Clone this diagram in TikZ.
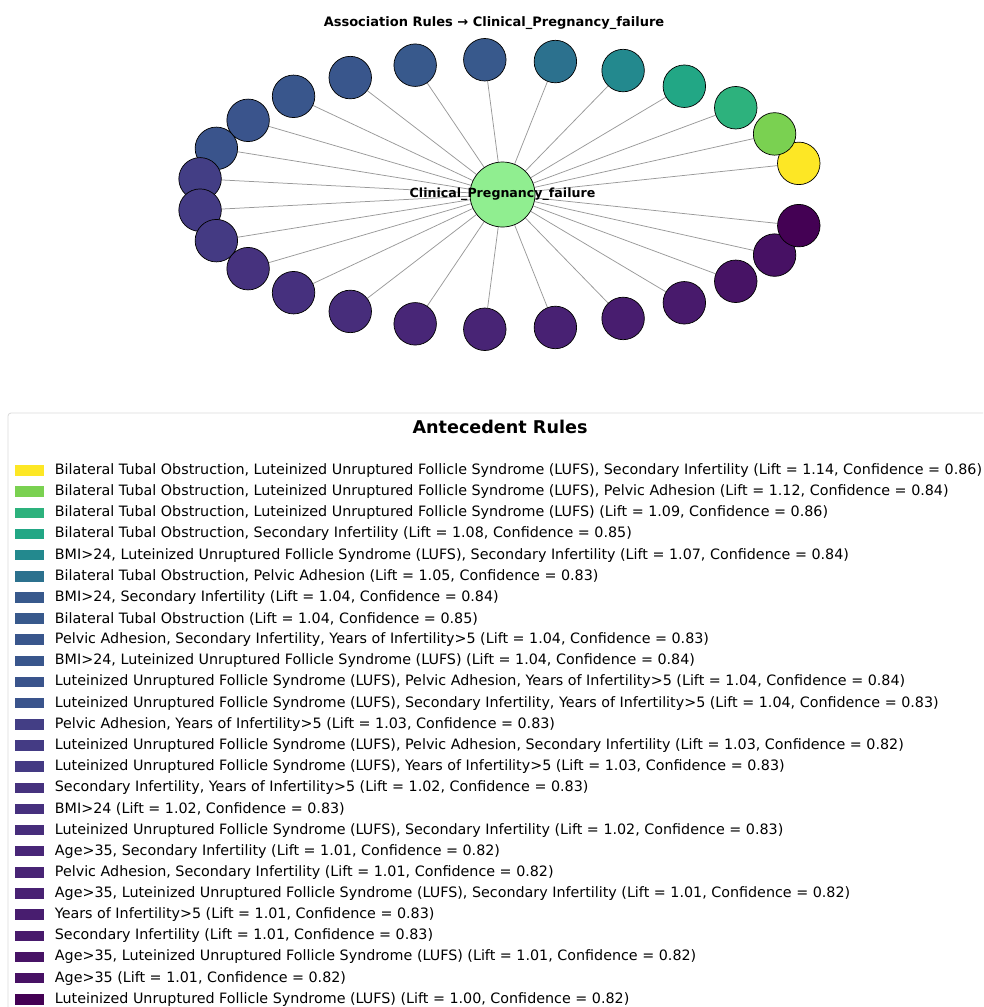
\documentclass[tikz,border=0pt]{standalone}
\usepackage{fontspec}
\setmainfont{DejaVu Sans}
\usetikzlibrary{positioning,calc,backgrounds}
\definecolor{vir1}{HTML}{FDE725}
\definecolor{vir2}{HTML}{7AD151}
\definecolor{vir3}{HTML}{2DB27D}
\definecolor{vir4}{HTML}{22A785}
\definecolor{vir5}{HTML}{23898E}
\definecolor{vir6}{HTML}{2C718E}
\definecolor{vir7}{HTML}{38598C}
\definecolor{vir8}{HTML}{38598C}
\definecolor{vir9}{HTML}{39568C}
\definecolor{vir10}{HTML}{39568C}
\definecolor{vir11}{HTML}{3A548C}
\definecolor{vir12}{HTML}{3A548C}
\definecolor{vir13}{HTML}{433E85}
\definecolor{vir14}{HTML}{443B84}
\definecolor{vir15}{HTML}{443A83}
\definecolor{vir16}{HTML}{46327E}
\definecolor{vir17}{HTML}{46307E}
\definecolor{vir18}{HTML}{472D7B}
\definecolor{vir19}{HTML}{482677}
\definecolor{vir20}{HTML}{482475}
\definecolor{vir21}{HTML}{482173}
\definecolor{vir22}{HTML}{481D6F}
\definecolor{vir23}{HTML}{481A6C}
\definecolor{vir24}{HTML}{471365}
\definecolor{vir25}{HTML}{471164}
\definecolor{vir26}{HTML}{440154}
\definecolor{hubgreen}{HTML}{90EE90}
\definecolor{spokegray}{HTML}{999999}
\definecolor{legendframe}{HTML}{D9D9D9}

\begin{document}
\begin{tikzpicture}[x=1pt,y=-1pt,
  rule/.style={circle,draw=black,line width=0.7pt,minimum size=42.5pt,inner sep=0pt},
  hub/.style={circle,draw=black,line width=0.7pt,fill=hubgreen,minimum size=65pt,inner sep=0pt},
  spoke/.style={draw=spokegray,line width=0.75pt},
  swatch/.style={minimum width=29pt,minimum height=10.5pt,inner sep=0pt},
  ruletext/.style={inner sep=0pt,font=\fontsize{14.3}{17}\selectfont}]
\clip (0,0) rectangle (983,1007);
\def\rx{304.5}
\def\ry{135}
\coordinate (O) at (502.5,194.5);
\node[font=\fontsize{13}{16}\selectfont\bfseries] (title) at (494,23) {Association Rules → Clinical\_Pregnancy\_failure};
\node[hub] (cpf) at (O) {};
\foreach \i in {1,...,26} {
  \node[rule,fill=vir\i] (r\i) at ($(O)+({\rx*cos(\i*360/27)},{-\ry*sin(\i*360/27)})$) {};
}
\begin{scope}[on background layer]
\foreach \i in {1,...,26} {
  \draw[spoke] (cpf) -- (r\i);
}
\end{scope}
\node[font=\fontsize{12.6}{15}\selectfont\bfseries] (cpflabel) at (O) {Clinical\_Pregnancy\_failure};

\draw[legendframe,line width=0.8pt,rounded corners=3pt] (8,1030) -- (8,413) -- (1010,413);
\node[font=\fontsize{17.6}{20}\selectfont\bfseries] (legtitle) at (500,427) {Antecedent Rules};
\foreach \i/\txt in {
  1/{Bilateral Tubal Obstruction, Luteinized Unruptured Follicle Syndrome (LUFS), Secondary Infertility (Lift = 1.14, Confidence = 0.86)},
  2/{Bilateral Tubal Obstruction, Luteinized Unruptured Follicle Syndrome (LUFS), Pelvic Adhesion (Lift = 1.12, Confidence = 0.84)},
  3/{Bilateral Tubal Obstruction, Luteinized Unruptured Follicle Syndrome (LUFS) (Lift = 1.09, Confidence = 0.86)},
  4/{Bilateral Tubal Obstruction, Secondary Infertility (Lift = 1.08, Confidence = 0.85)},
  5/{BMI>24, Luteinized Unruptured Follicle Syndrome (LUFS), Secondary Infertility (Lift = 1.07, Confidence = 0.84)},
  6/{Bilateral Tubal Obstruction, Pelvic Adhesion (Lift = 1.05, Confidence = 0.83)},
  7/{BMI>24, Secondary Infertility (Lift = 1.04, Confidence = 0.84)},
  8/{Bilateral Tubal Obstruction (Lift = 1.04, Confidence = 0.85)},
  9/{Pelvic Adhesion, Secondary Infertility, Years of Infertility>5 (Lift = 1.04, Confidence = 0.83)},
  10/{BMI>24, Luteinized Unruptured Follicle Syndrome (LUFS) (Lift = 1.04, Confidence = 0.84)},
  11/{Luteinized Unruptured Follicle Syndrome (LUFS), Pelvic Adhesion, Years of Infertility>5 (Lift = 1.04, Confidence = 0.84)},
  12/{Luteinized Unruptured Follicle Syndrome (LUFS), Secondary Infertility, Years of Infertility>5 (Lift = 1.04, Confidence = 0.83)},
  13/{Pelvic Adhesion, Years of Infertility>5 (Lift = 1.03, Confidence = 0.83)},
  14/{Luteinized Unruptured Follicle Syndrome (LUFS), Pelvic Adhesion, Secondary Infertility (Lift = 1.03, Confidence = 0.82)},
  15/{Luteinized Unruptured Follicle Syndrome (LUFS), Years of Infertility>5 (Lift = 1.03, Confidence = 0.83)},
  16/{Secondary Infertility, Years of Infertility>5 (Lift = 1.02, Confidence = 0.83)},
  17/{BMI>24 (Lift = 1.02, Confidence = 0.83)},
  18/{Luteinized Unruptured Follicle Syndrome (LUFS), Secondary Infertility (Lift = 1.02, Confidence = 0.83)},
  19/{Age>35, Secondary Infertility (Lift = 1.01, Confidence = 0.82)},
  20/{Pelvic Adhesion, Secondary Infertility (Lift = 1.01, Confidence = 0.82)},
  21/{Age>35, Luteinized Unruptured Follicle Syndrome (LUFS), Secondary Infertility (Lift = 1.01, Confidence = 0.82)},
  22/{Years of Infertility>5 (Lift = 1.01, Confidence = 0.83)},
  23/{Secondary Infertility (Lift = 1.01, Confidence = 0.83)},
  24/{Age>35, Luteinized Unruptured Follicle Syndrome (LUFS) (Lift = 1.01, Confidence = 0.82)},
  25/{Age>35 (Lift = 1.01, Confidence = 0.82)},
  26/{Luteinized Unruptured Follicle Syndrome (LUFS) (Lift = 1.00, Confidence = 0.82)}} {
  \node[swatch,fill=vir\i] (sw\i) at (29,{470.5+21.15*(\i-1)}) {};
  \node[ruletext,right=11pt of sw\i] (lab\i) {\txt};
}
\end{tikzpicture}
\end{document}
